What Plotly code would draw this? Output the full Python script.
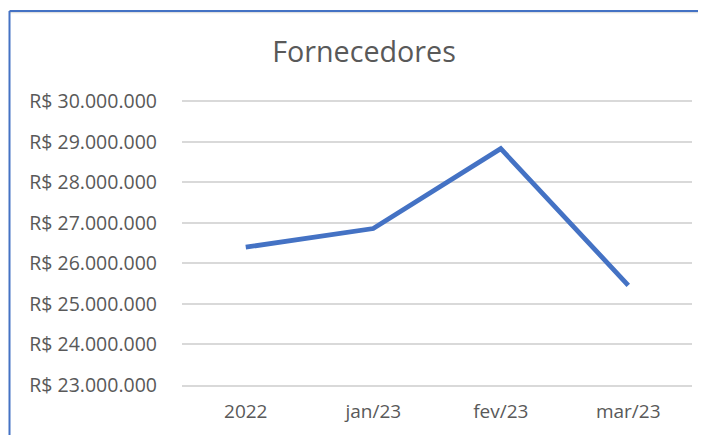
import plotly.graph_objects as go

categories = ["2022", "jan/23", "fev/23", "mar/23"]
values = [26400000, 26860000, 28830000, 25460000]
tick_vals = [23000000, 24000000, 25000000, 26000000, 27000000, 28000000, 29000000, 30000000]
tick_text = ["R$ 23.000.000", "R$ 24.000.000", "R$ 25.000.000", "R$ 26.000.000",
             "R$ 27.000.000", "R$ 28.000.000", "R$ 29.000.000", "R$ 30.000.000"]
y_min, y_max = 23000000, 30080000

# page body has an 8px margin; figure coordinates are offset by it
OFF = 8
px_per_unit = (385 - 101) / 7000000.0
top_px = 101 - (y_max - 30000000) * px_per_unit
W, H = 706 - OFF, 435 - OFF
L, T = 182 - OFF, int(round(top_px)) - OFF
PR, PB = 692 - OFF, 385 - OFF
R, B = W - PR, H - PB
pw = W - L - R
ph = H - T - B

fig = go.Figure()
fig.add_trace(go.Scatter(
    x=categories, y=values, mode="lines",
    line=dict(color="#4472C4", width=4.8),
    hoverinfo="skip", showlegend=False,
))

def px_to_paper_x(px):
    return (px - OFF - L) / pw

def py_to_paper_y(py):
    return (H - B - (py - OFF)) / ph

fig.update_layout(
    width=W, height=H,
    margin=dict(l=L, r=R, t=T, b=B, autoexpand=False),
    paper_bgcolor="white", plot_bgcolor="white",
    font=dict(family="Open Sans", color="#595959"),
    title=dict(text="Fornecedores", x=(364 - OFF) / W, xanchor="center",
               y=1 - (52 - OFF) / H, yanchor="middle", yref="container", xref="container",
               font=dict(size=28.7, color="#595959", family="Open Sans")),
    xaxis=dict(type="category", showgrid=False, zeroline=False,
               showline=True, linecolor="#d9d9d9", linewidth=1.5,
               ticks="", tickfont=dict(size=19, color="#595959"),
               ticklabelstandoff=8,
               range=[-0.5, 3.5]),
    yaxis=dict(range=[y_min, y_max], tickvals=tick_vals, ticktext=tick_text,
               showgrid=True, gridcolor="#d9d9d9", gridwidth=1.5,
               zeroline=False, showline=False, ticks="",
               ticklabelstandoff=24,
               tickfont=dict(size=19.5, color="#595959")),
    shapes=[
        dict(type="line", xref="paper", yref="paper",
             x0=px_to_paper_x(9.5), x1=px_to_paper_x(720),
             y0=py_to_paper_y(12.5), y1=py_to_paper_y(12.5),
             line=dict(color="#e0e0e0", width=1.5)),
        dict(type="line", xref="paper", yref="paper",
             x0=px_to_paper_x(9.5), x1=px_to_paper_x(720),
             y0=py_to_paper_y(11), y1=py_to_paper_y(11),
             line=dict(color="#4472C4", width=2)),
        dict(type="line", xref="paper", yref="paper",
             x0=px_to_paper_x(9.5), x1=px_to_paper_x(9.5),
             y0=py_to_paper_y(11), y1=py_to_paper_y(450),
             line=dict(color="#4472C4", width=2)),
    ],
)

fig.write_html("out.html")
